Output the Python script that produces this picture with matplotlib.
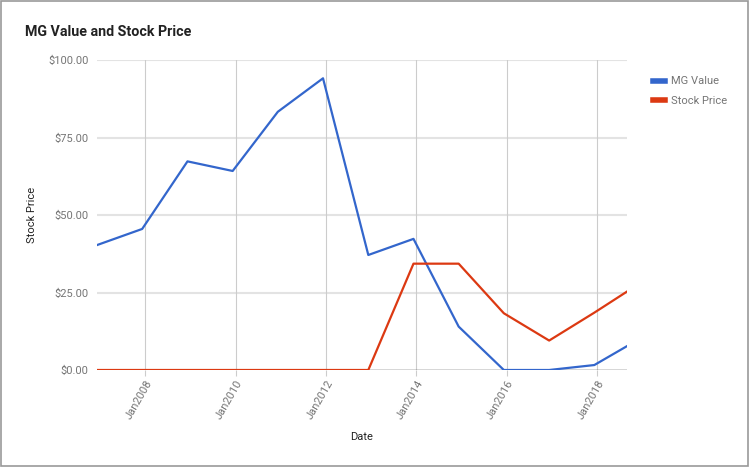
import pandas as pd
import matplotlib.pyplot as plt
from matplotlib.patches import Rectangle

# data
dates = ['2006-12-08', '2007-12-08', '2008-12-08', '2009-12-08', '2010-12-08',
         '2011-12-08', '2012-12-08', '2013-12-08', '2014-12-08', '2015-12-08',
         '2016-12-08', '2017-12-08', '2018-08-29']
mg_value = [40.3, 45.5, 67.3, 64.2, 83.3, 94.1, 37.1, 42.3, 14.0, 0.0, 0.0, 1.6, 7.7]
stock_price = [0.0, 0.0, 0.0, 0.0, 0.0, 0.0, 0.0, 34.3, 34.3, 18.3, 9.5, 18.5, 25.3]
tick_years = [2008, 2010, 2012, 2014, 2016, 2018]
y_ticks = [0, 25, 50, 75, 100]

df = pd.DataFrame({'date': pd.to_datetime(dates), 'mg': mg_value, 'price': stock_price})

plt.rcParams['font.family'] = ['Roboto', 'DejaVu Sans']

fig = plt.figure(figsize=(7.53, 4.72), dpi=100)
ax = fig.add_axes([97 / 753, 1 - 370 / 472, 530 / 753, 310 / 472])

# grid
for v in y_ticks[1:]:
    ax.axhline(v, color='#e3e3e3', linewidth=1.5, zorder=0)
tick_dates = [pd.Timestamp(f'{y}-01-01') for y in tick_years]
for d in tick_dates:
    ax.axvline(d, color='#cccccc', linewidth=0.8, zorder=0)
ax.axhline(0, color='#333333', linewidth=1, zorder=1)

ax.plot(df['date'], df['mg'], color='#3366cc', linewidth=1.6, label='MG Value', zorder=3)
ax.plot(df['date'], df['price'], color='#dc3912', linewidth=1.6, label='Stock Price', zorder=3)

ax.set_xlim(df['date'].min(), df['date'].max())
ax.set_ylim(0, 100)
ax.set_yticks(y_ticks)
ax.set_yticklabels([f'${v:.2f}' for v in y_ticks])
ax.set_xticks(tick_dates)
ax.set_xticklabels([f'Jan{y}' for y in tick_years], rotation=60, ha='right',
                   rotation_mode='anchor')
ax.tick_params(axis='y', length=0, pad=6, labelsize=8, labelcolor='#757575')
ax.tick_params(axis='x', length=4, width=0.8, color='#cccccc', pad=2, labelsize=8,
               labelcolor='#757575')
for s in ax.spines.values():
    s.set_visible(False)

ax.set_xlabel('Date', fontsize=8, color='#222222', labelpad=8)
ax.set_ylabel('Stock Price', fontsize=8, color='#222222', labelpad=8)

fig.text(25 / 753, 1 - 32 / 472, 'MG Value and Stock Price', fontsize=10.3,
         fontweight='bold', color='#222222', va='center')

leg = ax.legend(loc='upper left', bbox_to_anchor=(1.03, 0.98), frameon=False,
                fontsize=8, handlelength=1.1, handleheight=0.5, labelspacing=0.85,
                handletextpad=0.55)
for t in leg.get_texts():
    t.set_color('#757575')
for h in leg.get_lines():
    h.set_linewidth(4)

# outer frame
fig.patches.append(Rectangle((1 / 753, 6 / 472), 747 / 753, 465 / 472, transform=fig.transFigure,
                             fill=False, edgecolor='#999999', linewidth=1.2))

fig.savefig('out.png', dpi=100)
plt.close()
